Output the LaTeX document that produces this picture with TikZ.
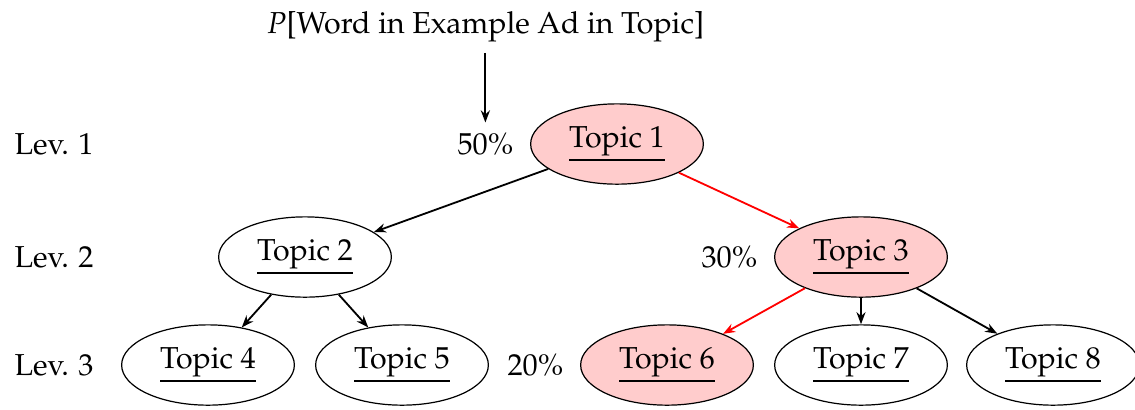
\documentclass[tikz,border=0pt]{standalone}
\usepackage[T1]{fontenc}
\usepackage{mathpazo}
\usepackage{xcolor}
\usepackage{tikz}
\usetikzlibrary{arrows.meta,positioning,shapes.geometric}
\definecolor{topicpink}{RGB}{255,204,204}

\begin{document}
\begin{tikzpicture}[x=0.33pt,y=-0.33pt,every node/.style={font=\normalsize},topic/.style={ellipse,draw,minimum width=57pt,minimum height=26.5pt,inner sep=1pt},hot/.style={topic,fill=topicpink},arr/.style={-{Stealth[length=4pt,width=3pt]},semithick},hotarr/.style={arr,draw=red,fill=red}]
\useasboundingbox (0,0) rectangle (1135,409);
\node[hot] (t1) at (617,144) {\underline{Topic 1}};
\node[topic] (t2) at (305,257) {\underline{Topic 2}};
\node[hot] (t3) at (861,257) {\underline{Topic 3}};
\node[topic] (t4) at (208,365) {\underline{Topic 4}};
\node[topic] (t5) at (402,365) {\underline{Topic 5}};
\node[hot] (t6) at (667,365) {\underline{Topic 6}};
\node[topic] (t7) at (861,365) {\underline{Topic 7}};
\node[topic] (t8) at (1053,365) {\underline{Topic 8}};
\node[left=2pt of t1] (p1) {50\%};
\node[left=2pt of t3] (p3) {30\%};
\node[left=2pt of t6] (p6) {20\%};
\node (title) at (p1.center |- 0,27) {$P$[Word in Example Ad in Topic]};
\node (lev1) at (54,144) {Lev. 1};
\node (lev2) at (54,257) {Lev. 2};
\node (lev3) at (54,365) {Lev. 3};
% edges
\draw[arr] (title) -- (p1);
\draw[arr] (t1) -- (t2);\draw[hotarr] (t1) -- (t3);
\draw[arr] (t2) -- (t4);\draw[arr] (t2) -- (t5);
\draw[hotarr] (t3) -- (t6);\draw[arr] (t3) -- (t7);\draw[arr] (t3) -- (t8);
\end{tikzpicture}
\end{document}
